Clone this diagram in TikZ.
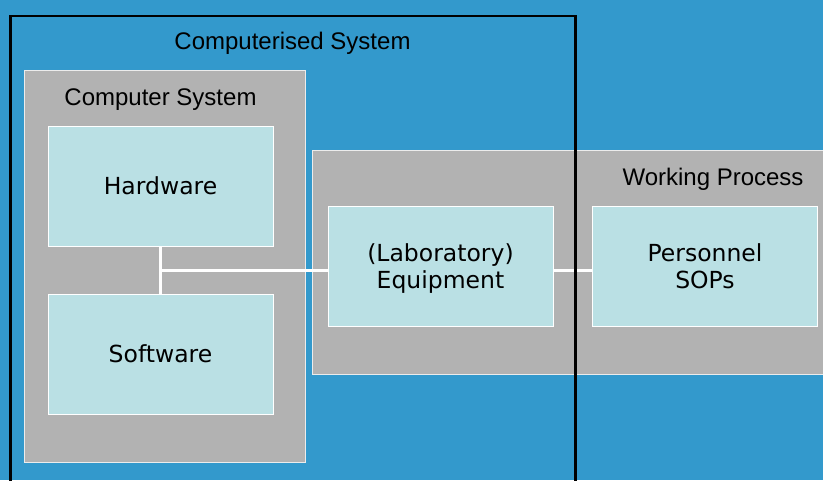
\documentclass[tikz,border=0pt]{standalone}
\usepackage{fontspec}
\setmainfont{Liberation Sans}
\newfontfamily\partfont{DejaVu Sans}
\usetikzlibrary{calc}
\definecolor{sky}{RGB}{51,153,204}
\definecolor{boxgray}{RGB}{178,178,178}
\definecolor{partcyan}{RGB}{186,224,228}
\tikzset{
  group/.style={draw=white!75!boxgray,line width=0.8pt,fill=boxgray,inner sep=0pt,anchor=north west},
  part/.style={draw=white,line width=1pt,fill=partcyan,inner sep=0pt,align=center,
    minimum width=225,minimum height=120,font=\partfont\fontsize{23.5}{27}\selectfont},
  title/.style={anchor=base,font=\fontsize{24}{28}\selectfont},
  link/.style={draw=white,line width=3pt},
  frame/.style={draw=black,line width=2.5pt,inner sep=0pt,anchor=north west}
}
\begin{document}
\begin{tikzpicture}[x=1pt,y=-1pt]
  \useasboundingbox (0,0) rectangle (823,480);
  \clip (0,0) rectangle (823,480);
  \fill[sky] (0,0) rectangle (823,480);
  % grey groups
  \node[group,minimum width=281,minimum height=392] (cs) at (24,70) {};
  \node[group,minimum width=530,minimum height=224] (wp) at (312,150) {};
  \node[title] (cs-title) at (160.5,105) {Computer System};
  \node[title] (wp-title) at (713,185) {Working Process};
  % parts
  \node[part] (hw) at (160.5,186) {Hardware};
  \node[part] (sw) at (160.5,354) {Software};
  \node[part,text depth=-2pt] (eq) at (440.5,266) {(Laboratory)\\Equipment};
  \node[part,text depth=-2pt] (pe) at (705,266) {Personnel\\SOPs};
  % connectors
  \coordinate (fork) at ($(hw.south)!0.5!(sw.north)$);
  \draw[link] (hw.south) -- (sw.north);
  \draw[link] (fork) -- (fork -| eq.west);
  \draw[link] (eq.east |- fork) -- (fork -| pe.west);
  % computerised system frame
  \node[frame,minimum width=565,minimum height=490] (sys) at (9,14.5) {};
  \node[title] (sys-title) at (292.5,49) {Computerised System};
\end{tikzpicture}
\end{document}
